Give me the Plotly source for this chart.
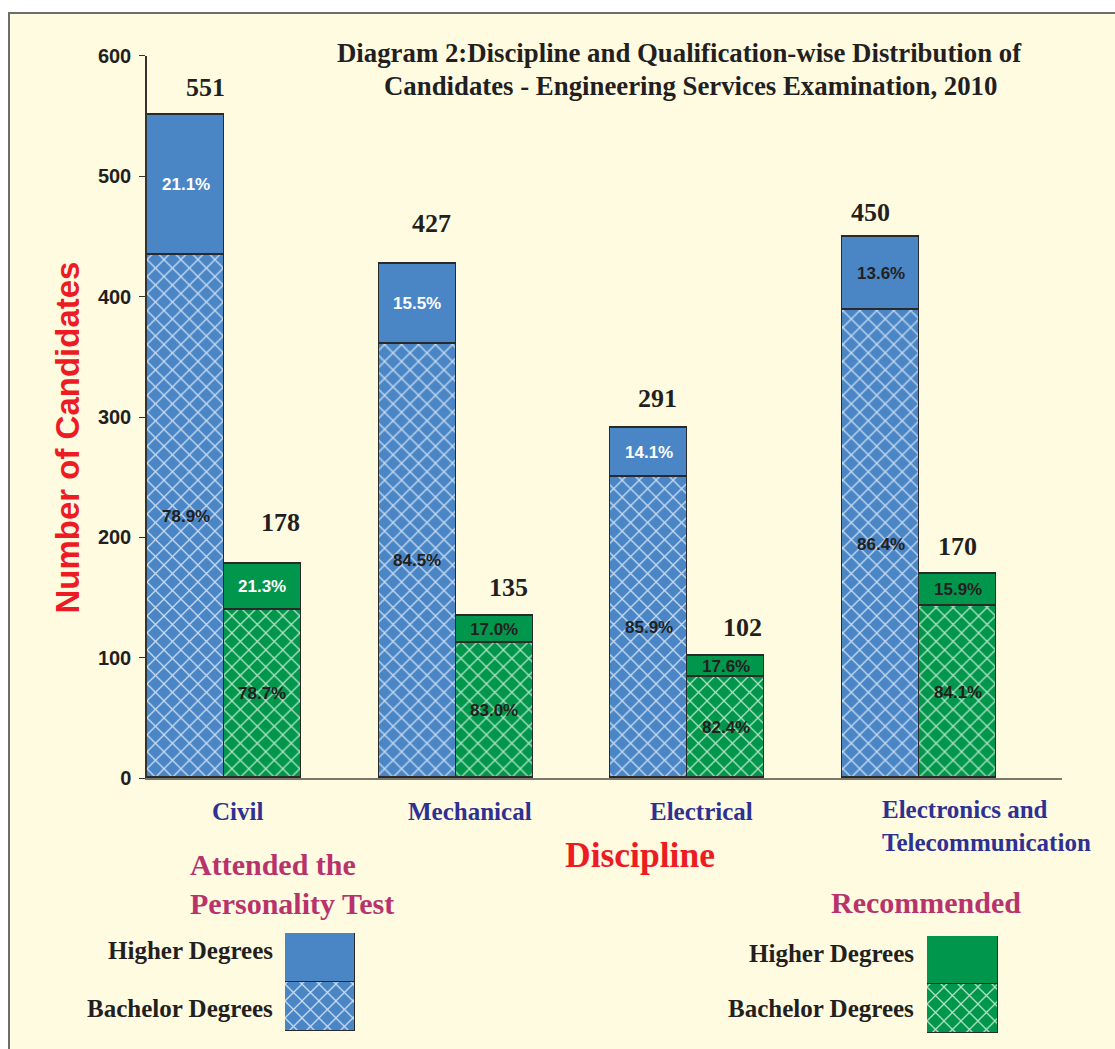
import plotly.graph_objects as go

# ---- data -------------------------------------------------------------
disciplines = ["Civil", "Mechanical", "Electrical", "Electronics and<br>Telecommunication"]

# Candidates who attended the personality test
attended_bachelor = [435, 361, 250, 389]
attended_higher = [116, 66, 41, 61]

# Candidates recommended
recommended_bachelor = [140, 112, 84, 143]
recommended_higher = [38, 23, 18, 27]

# ---- styling ----------------------------------------------------------
W, H = 1115, 1049
BLUE = "#4A86C6"
BLUE_HATCH = "#D6E5F5"
GREEN = "#00964C"
GREEN_HATCH = "#C4EBD1"
DARK = "#231F20"
NAVY = "#2E3192"
RED = "#ED1C24"
MAGENTA = "#B8336C"
BG = "#FFFBE1"
SERIF = "Liberation Serif"
SANS = "Liberation Sans"

BAR_W = 0.332
OUTLINE = dict(color="#2A2A2A", width=1.5)

# label colours for the higher-degree segments
att_hi_text = ["white", "white", "white", DARK]
rec_hi_text = ["white", DARK, DARK, DARK]

# pixel nudges (dx, dy) for the total labels above each bar
att_total_nudge = [(20, 27), (14, 41), (9, 29), (-10, 24)]
rec_total_nudge = [(18, 41), (14, 28), (17, 28), (0, 27)]

# layout helpers: pixel positions -> paper fractions
Y0, YSPAN = 10, 1028


def px(x):
    return x / W


def py(y):
    return 1 - (y - Y0) / YSPAN


idx = list(range(len(disciplines)))
x_att = [i - BAR_W / 2 for i in idx]
x_rec = [i + BAR_W / 2 for i in idx]

fig = go.Figure()


def hatch(color, fg):
    return dict(color=color, line=OUTLINE,
                pattern=dict(shape="x", size=12, solidity=0.2, fgcolor=fg, fgopacity=0.9))


def solid(color):
    return dict(color=color, line=OUTLINE)


fig.add_trace(go.Bar(x=x_att, y=attended_bachelor, width=BAR_W, marker=hatch(BLUE, BLUE_HATCH),
                     xaxis="x", yaxis="y", hoverinfo="skip"))
fig.add_trace(go.Bar(x=x_att, y=attended_higher, width=BAR_W, marker=solid(BLUE),
                     xaxis="x", yaxis="y", hoverinfo="skip"))
fig.add_trace(go.Bar(x=x_rec, y=recommended_bachelor, width=BAR_W, marker=hatch(GREEN, GREEN_HATCH),
                     xaxis="x", yaxis="y", hoverinfo="skip"))
fig.add_trace(go.Bar(x=x_rec, y=recommended_higher, width=BAR_W, marker=solid(GREEN),
                     xaxis="x", yaxis="y", hoverinfo="skip"))

# legend swatches drawn as tiny stacked bars on their own axes
swatch = [1]
for ax, col, fg in (("2", BLUE, BLUE_HATCH), ("3", GREEN, GREEN_HATCH)):
    fig.add_trace(go.Bar(x=[0], y=swatch, width=1, marker=hatch(col, fg),
                         xaxis="x" + ax, yaxis="y" + ax, hoverinfo="skip"))
    fig.add_trace(go.Bar(x=[0], y=swatch, width=1, marker=solid(col),
                         xaxis="x" + ax, yaxis="y" + ax, hoverinfo="skip"))

ann = []


def note(**kw):
    base = dict(showarrow=False, xanchor="center", yanchor="middle")
    base.update(kw)
    ann.append(base)


def pct(part, total):
    return f"{100 * part / total:.1f}%"


pct_font = dict(family=SANS, size=17, weight="bold")
total_font = dict(family=SERIF, size=26, weight="bold", color=DARK)
for i in idx:
    for xs, bach, hi, hi_col, nudge in (
            (x_att, attended_bachelor, attended_higher, att_hi_text, att_total_nudge),
            (x_rec, recommended_bachelor, recommended_higher, rec_hi_text, rec_total_nudge)):
        total = bach[i] + hi[i]
        note(x=xs[i], y=bach[i] / 2, xref="x", yref="y", text=pct(bach[i], total),
             font=dict(pct_font, color=DARK))
        note(x=xs[i], y=bach[i] + hi[i] / 2, xref="x", yref="y", text=pct(hi[i], total),
             font=dict(pct_font, color=hi_col[i]))
        note(x=xs[i], y=total, xref="x", yref="y", text=str(total),
             xshift=nudge[i][0], yshift=nudge[i][1], font=total_font)

# category labels
cat_font = dict(family=SERIF, size=25, weight="bold", color=NAVY)
for i, name in enumerate(disciplines):
    if i == len(disciplines) - 1:
        note(x=i, y=py(811), xref="x", yref="paper", text=name, xanchor="left", align="left",
             yanchor="top", xshift=-39, yshift=17, font=cat_font)
    else:
        note(x=i, y=py(811), xref="x", yref="paper", text=name, xshift=14, font=cat_font)

title_font = dict(family=SERIF, size=26.8, weight="bold", color=DARK)
note(x=px(679), y=py(52), xref="paper", yref="paper", font=title_font,
     text="Diagram 2:Discipline and Qualification-wise Distribution of")
note(x=px(690), y=py(85), xref="paper", yref="paper", font=title_font,
     text="Candidates - Engineering Services Examination, 2010")
note(x=px(68), y=py(437), xref="paper", yref="paper", textangle=-90,
     text="Number of Candidates", font=dict(family=SANS, size=33, weight="bold", color=RED))
note(x=px(640), y=py(855), xref="paper", yref="paper", text="Discipline",
     font=dict(family=SERIF, size=35.5, weight="bold", color=RED))
note(x=px(188), y=py(884), xref="paper", yref="paper", text="Attended the<br>Personality Test",
     xanchor="left", align="left",
     font=dict(family=SERIF, size=30, weight="bold", color=MAGENTA))
note(x=px(926), y=py(902), xref="paper", yref="paper", text="Recommended",
     font=dict(family=SERIF, size=30, weight="bold", color=MAGENTA))

leg_font = dict(family=SERIF, size=25, weight="bold", color=DARK)
for xr, y1, y2 in ((275, 950, 1008), (916, 953, 1008)):
    note(x=px(xr), y=py(y1), xref="paper", yref="paper", xanchor="right",
         text="Higher Degrees", font=leg_font)
    note(x=px(xr), y=py(y2), xref="paper", yref="paper", xanchor="right",
         text="Bachelor Degrees", font=leg_font)

hidden = dict(visible=False, fixedrange=True)

fig.update_layout(
    width=W, height=H,
    margin=dict(l=0, r=0, t=0, b=0),
    paper_bgcolor="white",
    plot_bgcolor="rgba(0,0,0,0)",
    barmode="stack",
    bargap=0,
    showlegend=False,
    xaxis=dict(domain=[px(147), px(1062)], range=[-0.3323, 3.617], showticklabels=False,
               ticks="", showgrid=False, zeroline=False, showline=True,
               linecolor="#7A776A", linewidth=2),
    yaxis=dict(domain=[py(778), py(55)], range=[0, 600], dtick=100, ticks="outside",
               ticklen=6, tickcolor="#333333", tickwidth=1.2, showgrid=False, zeroline=False,
               showline=True, linecolor="#333333", linewidth=1.5, ticklabelstandoff=4,
               tickfont=dict(family=SANS, size=20, weight="bold", color=DARK)),
    xaxis2=dict(domain=[px(285), px(355)], range=[-0.5, 0.5], anchor="y2", **hidden),
    yaxis2=dict(domain=[py(1031), py(933)], range=[0, 2], anchor="x2", **hidden),
    xaxis3=dict(domain=[px(927), px(998)], range=[-0.5, 0.5], anchor="y3", **hidden),
    yaxis3=dict(domain=[py(1033), py(936)], range=[0, 2], anchor="x3", **hidden),
    annotations=ann,
    shapes=[dict(type="rect", xref="paper", yref="paper", x0=px(9), x1=1.05, y0=-0.05,
                 y1=py(12), fillcolor=BG, line=dict(color="#6D6D6D", width=2), layer="below")],
)

fig.write_html("out.html")
